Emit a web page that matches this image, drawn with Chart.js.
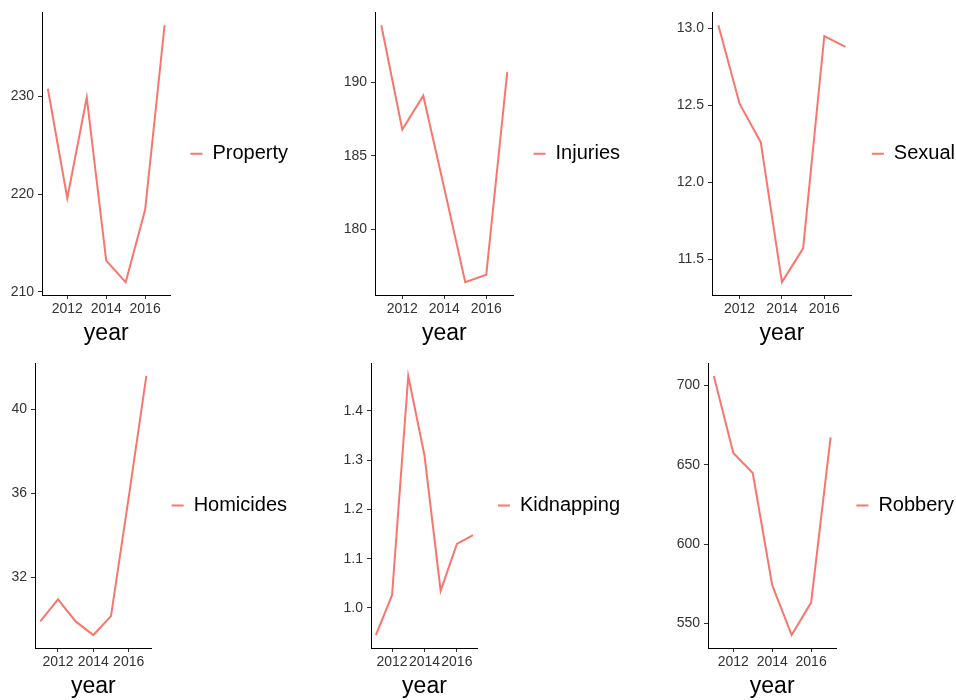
<!DOCTYPE html>
<html lang="en">
<head>
<meta charset="UTF-8">
<title>Crime rates by year</title>
<script src="https://cdn.jsdelivr.net/npm/chart.js"></script>
<style>
  html, body { margin: 0; padding: 0; background: #fff; overflow: hidden; }
  #page { position: relative; width: 956px; height: 700px; }
  canvas { position: absolute; }
</style>
</head>
<body>
<div id="page"></div>
<script>
// data
const years = [2011, 2012, 2013, 2014, 2015, 2016, 2017];
const yearTicks = [2012, 2014, 2016];

const property   = [230.8, 219.6, 229.9, 213.2, 211.0, 218.4, 237.3];
const injuries   = [193.9, 186.8, 189.1, 182.8, 176.4, 176.9, 190.7];
const sexual     = [13.02, 12.51, 12.26, 11.35, 11.57, 12.95, 12.88];
const homicides  = [29.9, 30.95, 29.9, 29.25, 30.15, 35.8, 41.6];
const kidnapping = [0.945, 1.026, 1.471, 1.31, 1.035, 1.13, 1.148];
const robbery    = [705.9, 657.4, 644.8, 574.2, 542.8, 563.2, 667.3];

const propertyTicks   = [210, 220, 230];
const injuriesTicks   = [180, 185, 190];
const sexualTicks     = [11.5, 12.0, 12.5, 13.0];
const homicidesTicks  = [32, 36, 40];
const kidnappingTicks = [1.0, 1.1, 1.2, 1.3, 1.4];
const robberyTicks    = [550, 600, 650, 700];

// where each plot area sits on the page
const panels = [
  { name: 'Property',   values: property,   ticks: propertyTicks,   digits: 0, axisLeft: 42,  axisRight: 170, rowTop: 0,   top: 10, bottom: 295 },
  { name: 'Injuries',   values: injuries,   ticks: injuriesTicks,   digits: 0, axisLeft: 375, axisRight: 514, rowTop: 0,   top: 10, bottom: 295 },
  { name: 'Sexual',     values: sexual,     ticks: sexualTicks,     digits: 1, axisLeft: 712, axisRight: 852, rowTop: 0,   top: 10, bottom: 295 },
  { name: 'Homicides',  values: homicides,  ticks: homicidesTicks,  digits: 0, axisLeft: 35,  axisRight: 152, rowTop: 350, top: 13, bottom: 298 },
  { name: 'Kidnapping', values: kidnapping, ticks: kidnappingTicks, digits: 1, axisLeft: 371, axisRight: 478, rowTop: 350, top: 13, bottom: 298 },
  { name: 'Robbery',    values: robbery,    ticks: robberyTicks,    digits: 0, axisLeft: 708, axisRight: 836, rowTop: 350, top: 13, bottom: 298 }
];

const LINE = '#F8766D';
const FONT = '"Liberation Sans", Arial, Helvetica, sans-serif';
const Y_W = 38;     // y axis box width
const X_H = 52;     // x axis box height
const KEY = 12;     // legend key length
const GAP = 20;     // space between plot and legend key

Chart.defaults.font.family = FONT;

const page = document.getElementById('page');
const measure = document.createElement('canvas').getContext('2d');
measure.font = '20px ' + FONT;

panels.forEach(p => {
  const left = p.axisLeft - Y_W;
  const textW = measure.measureText(p.name).width;
  const width = Math.round(p.axisRight - left + GAP + KEY + 10 + textW + 10);
  const height = p.bottom + X_H;

  const canvas = document.createElement('canvas');
  canvas.width = width;
  canvas.height = height;
  canvas.style.left = left + 'px';
  canvas.style.top = p.rowTop + 'px';
  page.appendChild(canvas);

  // ggplot style 5% expansion on both axes
  const lo = Math.min(...p.values), hi = Math.max(...p.values);
  const padY = (hi - lo) * 0.05;
  const padX = (years[years.length - 1] - years[0]) * 0.05;

  new Chart(canvas, {
    type: 'line',
    data: {
      datasets: [{
        label: p.name,
        data: years.map((y, i) => ({ x: y, y: p.values[i] })),
        borderColor: LINE,
        backgroundColor: LINE,
        borderWidth: 2,
        pointRadius: 0,
        tension: 0,
        fill: false
      }]
    },
    options: {
      responsive: false,
      animation: false,
      devicePixelRatio: 1,
      layout: { padding: { top: p.top, left: 0, right: 0, bottom: 0 } },
      plugins: {
        tooltip: { enabled: false },
        legend: {
          position: 'right',
          fullSize: false,
          maxWidth: 400,
          labels: {
            boxWidth: KEY,
            boxHeight: 2,
            padding: GAP,
            color: '#000',
            font: { size: 20 },
            generateLabels: chart => chart.data.datasets.map((d, i) => ({
              text: d.label,
              fillStyle: LINE,
              strokeStyle: LINE,
              lineWidth: 0,
              datasetIndex: i
            }))
          }
        }
      },
      scales: {
        x: {
          type: 'linear',
          min: years[0] - padX,
          max: years[years.length - 1] + padX,
          afterBuildTicks: s => { s.ticks = yearTicks.map(v => ({ value: v })); },
          afterFit: s => { s.height = X_H; },
          ticks: {
            autoSkip: false,
            maxRotation: 0,
            minRotation: 0,
            color: '#333',
            font: { size: 14 },
            padding: 2,
            callback: v => String(v)
          },
          grid: { drawOnChartArea: false, drawTicks: true, tickLength: 4, tickColor: '#333' },
          border: { color: '#000', width: 1 },
          title: { display: true, text: 'year', color: '#000', font: { size: 23 }, padding: { top: 0, bottom: 0 } }
        },
        y: {
          type: 'linear',
          min: lo - padY,
          max: hi + padY,
          afterBuildTicks: s => { s.ticks = p.ticks.map(v => ({ value: v })); },
          afterFit: s => { s.width = Y_W; },
          ticks: {
            color: '#333',
            font: { size: 14 },
            padding: 4,
            callback: v => Number(v).toFixed(p.digits)
          },
          grid: { drawOnChartArea: false, drawTicks: true, tickLength: 4, tickColor: '#333' },
          border: { color: '#000', width: 1 }
        }
      }
    }
  });
});
</script>
</body>
</html>
